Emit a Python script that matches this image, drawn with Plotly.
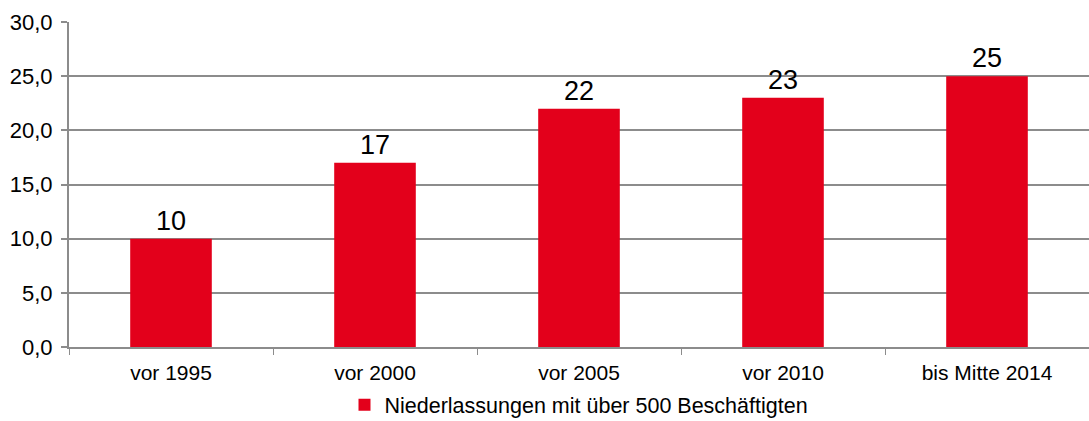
import plotly.graph_objects as go

categories = ["vor 1995", "vor 2000", "vor 2005", "vor 2010", "bis Mitte 2014"]
values = [10, 17, 22, 23, 25]
series_name = "Niederlassungen mit über 500 Beschäftigten"
y_ticks = [0, 5, 10, 15, 20, 25, 30]

RED = "#E3001B"
GRID = "#8C8C8C"
FONT = "Liberation Sans, Arial"

fig = go.Figure()
fig.add_trace(go.Bar(
    x=categories, y=values, name=series_name,
    marker=dict(color=RED, line=dict(width=0)),
    text=[str(v) for v in values], textposition="outside",
    textfont=dict(size=27, color="#000000", family=FONT),
    cliponaxis=False,
))

fig.update_layout(
    width=1089, height=421,
    margin=dict(l=69, r=0, t=22, b=74, autoexpand=False),
    paper_bgcolor="white", plot_bgcolor="white",
    separators=",.",
    bargap=0.6,
    font=dict(family=FONT, size=21, color="#000000"),
    showlegend=True,
    legend=dict(orientation="h", x=0.5, xanchor="center", y=-0.178, yanchor="middle",
                font=dict(size=21.5), itemwidth=30),
)
fig.update_xaxes(
    type="category", showline=True, linecolor=GRID, linewidth=2,
    ticks="outside", tickson="boundaries", ticklen=6, tickcolor=GRID, tickwidth=1,
    showgrid=False, tickfont=dict(size=21), automargin=False, ticklabelstandoff=6,
)
fig.update_yaxes(
    range=[0, 30], tickvals=y_ticks, tickformat=".1f",
    showline=True, linecolor=GRID, linewidth=2,
    ticks="outside", ticklen=6, tickcolor=GRID, tickwidth=2,
    showgrid=True, gridcolor=GRID, gridwidth=2, zeroline=False,
    tickfont=dict(size=22), automargin=False, ticklabelstandoff=4,
)

fig.write_html("out.html", config={"displayModeBar": False},
               post_script="document.body.style.margin='0';")
